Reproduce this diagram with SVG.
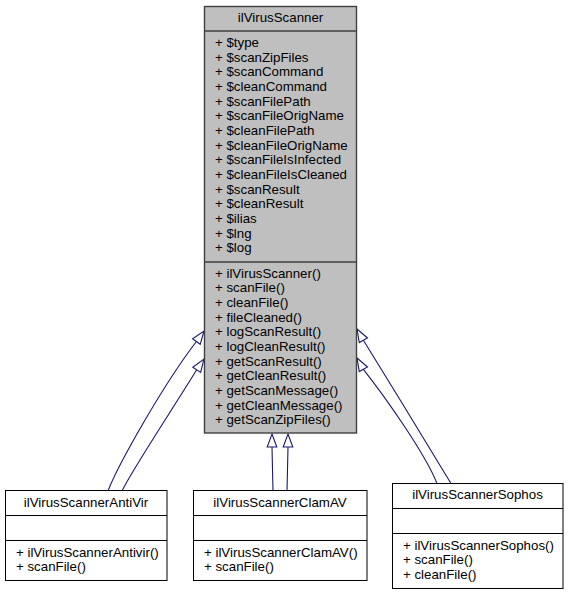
<svg xmlns="http://www.w3.org/2000/svg" width="568" height="595" viewBox="0 0 568 595">
<style>
text{font-family:"Liberation Sans",Arial,sans-serif;font-size:13.3px;fill:#000}
.t{text-anchor:middle}
.main{fill:#bfbfbf;stroke:#404040;stroke-width:1.4}
.mline{stroke:#404040;stroke-width:1.4}
.box{fill:#fff;stroke:#000;stroke-width:1}
.line{stroke:#000;stroke-width:1}
.edge{fill:none;stroke:#191970;stroke-width:1.1}
.arrow{fill:#fff;stroke:#191970;stroke-width:1.1}
</style>
<rect width="568" height="595" fill="#fff"/>
<g id="edges">
<path class="edge" d="M108,491 C118,465 163,385 196.4,341.5"/>
<polygon class="arrow" points="204,331 200.2,344.3 192.6,338.7"/>
<path class="edge" d="M122,491 C132,470 172,410 196.7,369.8"/>
<polygon class="arrow" points="204,359 200.6,372.4 192.8,367.2"/>
<path class="edge" d="M273,491 L272,447"/>
<polygon class="arrow" points="272,434 276.8,447 267.2,447"/>
<path class="edge" d="M287,491 L288,447"/>
<polygon class="arrow" points="288,434 292.8,447 283.2,447"/>
<path class="edge" d="M451,483.5 C432,452 388,380 363.4,340.3"/>
<polygon class="arrow" points="357,329 367.5,338 359.3,342.6"/>
<path class="edge" d="M437,483.5 C426,455 386,398 363.4,369.3"/>
<polygon class="arrow" points="357,358 367.5,367 359.3,371.6"/>
</g>
<g id="ilVirusScanner">
<rect class="main" x="204.5" y="6.5" width="152" height="426.5"/>
<line class="mline" x1="204.5" y1="31" x2="356.5" y2="31"/>
<line class="mline" x1="204.5" y1="262" x2="356.5" y2="262"/>
<text class="t" x="280.5" y="22">ilVirusScanner</text>
<text x="215" y="47">+ $type</text>
<text x="215" y="61.7">+ $scanZipFiles</text>
<text x="215" y="76.3">+ $scanCommand</text>
<text x="215" y="91">+ $cleanCommand</text>
<text x="215" y="105.7">+ $scanFilePath</text>
<text x="215" y="120.3">+ $scanFileOrigName</text>
<text x="215" y="135">+ $cleanFilePath</text>
<text x="215" y="149.7">+ $cleanFileOrigName</text>
<text x="215" y="164.3">+ $scanFileIsInfected</text>
<text x="215" y="179">+ $cleanFileIsCleaned</text>
<text x="215" y="193.7">+ $scanResult</text>
<text x="215" y="208.3">+ $cleanResult</text>
<text x="215" y="223">+ $ilias</text>
<text x="215" y="237.7">+ $lng</text>
<text x="215" y="252.3">+ $log</text>
<text x="215" y="277.5">+ ilVirusScanner()</text>
<text x="215" y="292.2">+ scanFile()</text>
<text x="215" y="306.8">+ cleanFile()</text>
<text x="215" y="321.5">+ fileCleaned()</text>
<text x="215" y="336.2">+ logScanResult()</text>
<text x="215" y="350.8">+ logCleanResult()</text>
<text x="215" y="365.5">+ getScanResult()</text>
<text x="215" y="380.2">+ getCleanResult()</text>
<text x="215" y="394.8">+ getScanMessage()</text>
<text x="215" y="409.5">+ getCleanMessage()</text>
<text x="215" y="424.2">+ getScanZipFiles()</text>
</g>
<g id="ilVirusScannerAntiVir">
<rect class="box" x="5.5" y="490.5" width="161.5" height="90"/>
<line class="line" x1="5.5" y1="515.5" x2="167" y2="515.5"/>
<line class="line" x1="5.5" y1="540.5" x2="167" y2="540.5"/>
<text class="t" x="86" y="506.5">ilVirusScannerAntiVir</text>
<text x="16" y="556.5">+ ilVirusScannerAntivir()</text>
<text x="16" y="571">+ scanFile()</text>
</g>
<g id="ilVirusScannerClamAV">
<rect class="box" x="193.5" y="490.5" width="173.5" height="90"/>
<line class="line" x1="193.5" y1="515.5" x2="367" y2="515.5"/>
<line class="line" x1="193.5" y1="540.5" x2="367" y2="540.5"/>
<text class="t" x="280" y="506.5">ilVirusScannerClamAV</text>
<text x="204" y="556.5">+ ilVirusScannerClamAV()</text>
<text x="204" y="571">+ scanFile()</text>
</g>
<g id="ilVirusScannerSophos">
<rect class="box" x="392.5" y="483.5" width="170.5" height="105"/>
<line class="line" x1="392.5" y1="508.5" x2="563" y2="508.5"/>
<line class="line" x1="392.5" y1="533.5" x2="563" y2="533.5"/>
<text class="t" x="477.5" y="499">ilVirusScannerSophos</text>
<text x="403" y="549.5">+ ilVirusScannerSophos()</text>
<text x="403" y="564">+ scanFile()</text>
<text x="403" y="578.5">+ cleanFile()</text>
</g>
</svg>
